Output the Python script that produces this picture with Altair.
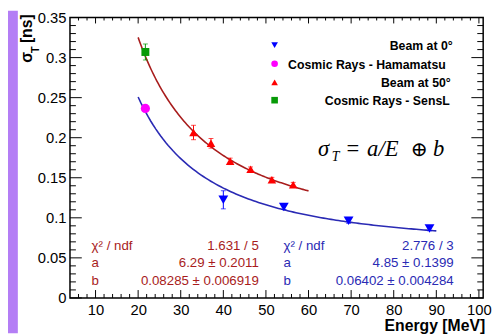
import altair as alt
import pandas as pd
import numpy as np

# ---------------- data ----------------
series_names = ["Beam at 0°", "Cosmic Rays - Hamamatsu", "Beam at 50°", "Cosmic Rays - SensL"]

beam0_E = [40.0, 54.2, 69.4, 88.4]
beam0_sigma = [0.1225, 0.1134, 0.0962, 0.0868]
beam0_err = [0.0113, 0.003, 0.003, 0.003]

hama_E = [21.7]
hama_sigma = [0.2365]
hama_err = [0.004]

beam50_E = [33.0, 37.1, 41.6, 46.4, 51.4, 56.4]
beam50_sigma = [0.2065, 0.193, 0.1705, 0.1605, 0.1475, 0.1412]
beam50_err = [0.009, 0.006, 0.004, 0.003, 0.003, 0.003]

sensl_E = [21.7]
sensl_sigma = [0.307]
sensl_err = [0.010]

# fit parameters shown on the chart (sigma = a/E (+) b)
fit50_a, fit50_b, fit50_range = 6.29, 0.08285, [20, 60]
fit0_a, fit0_b, fit0_range = 4.85, 0.06402, [20, 90]

x_major = [10, 20, 30, 40, 50, 60, 70, 80, 90, 100]
x_minor = [v for v in range(6, 101, 2) if v % 10 != 0]
y_major = [0, 0.05, 0.1, 0.15, 0.2, 0.25, 0.3, 0.35]
y_minor = [round(i * 0.01, 2) for i in range(1, 35) if i % 5 != 0]

stats50 = [("χ² / ndf", "1.631 / 5"), ("a", "6.29 ± 0.2011"), ("b", "0.08285 ± 0.006919")]
stats0 = [("χ² / ndf", "2.776 / 3"), ("a", "4.85 ± 0.1399"), ("b", "0.06402 ± 0.004284")]

# ---------------- styling ----------------
W, H = 420, 285
RED_FIT = "#a81c1c"
BLUE_FIT = "#2a2ab4"
PURPLE = "#b47ef5"
colors = ["#0000ff", "#ff00ff", "#ff0000", "#079a07"]
shapes = ["triangle-down", "circle", "triangle-up", "square"]
sizes = [100, 65, 100, 70]
SANS = "Liberation Sans"
SERIF = "Liberation Serif"

xs = alt.Scale(domain=[4, 101], nice=False, zero=False)
ys = alt.Scale(domain=[0, 0.35], nice=False, zero=False)
xaxis = alt.Axis(values=x_major, title=None, domain=False, ticks=False, grid=False,
                 labelFontSize=15, labelFont=SANS, labelColor="black", labelPadding=5,
                 format="d", labelFlush=False)
yaxis = alt.Axis(values=y_major, title=None, domain=False, ticks=False, grid=False,
                 labelFontSize=15, labelFont=SANS, labelColor="black", labelPadding=4,
                 format=".2~f", labelFlush=False)

# ---------------- tables ----------------
rows = []
for name, E, s, e in [(series_names[0], beam0_E, beam0_sigma, beam0_err),
                      (series_names[1], hama_E, hama_sigma, hama_err),
                      (series_names[2], beam50_E, beam50_sigma, beam50_err),
                      (series_names[3], sensl_E, sensl_sigma, sensl_err)]:
    for Ei, si, ei in zip(E, s, e):
        rows.append({"E": Ei, "sigma": si, "lo": si - ei, "hi": si + ei, "series": name})
pts = pd.DataFrame(rows)

def fit_df(a, b, rng):
    E = np.linspace(rng[0], rng[1], 120)
    return pd.DataFrame({"E": E, "sigma": np.sqrt((a / E) ** 2 + b ** 2)})

one = pd.DataFrame({"k": [0]})

color_enc = alt.Color("series:N", scale=alt.Scale(domain=series_names, range=colors), legend=None)

# ---------------- layers ----------------
layers = []

# purple strip at left
layers.append(alt.Chart(one).mark_rect(color=PURPLE).encode(
    x=alt.value(-63), x2=alt.value(-53), y=alt.value(-7), y2=alt.value(321)))

# fit curves
layers.append(alt.Chart(fit_df(fit50_a, fit50_b, fit50_range)).mark_line(color=RED_FIT, strokeWidth=1.6).encode(
    x=alt.X("E:Q", scale=xs, axis=xaxis), y=alt.Y("sigma:Q", scale=ys, axis=yaxis)))
layers.append(alt.Chart(fit_df(fit0_a, fit0_b, fit0_range)).mark_line(color=BLUE_FIT, strokeWidth=1.6).encode(
    x=alt.X("E:Q", scale=xs, axis=xaxis), y=alt.Y("sigma:Q", scale=ys, axis=yaxis)))

# error bars
layers.append(alt.Chart(pts).mark_rule(strokeWidth=1).encode(
    x=alt.X("E:Q", scale=xs, axis=xaxis), y=alt.Y("lo:Q", scale=ys, axis=yaxis), y2="hi:Q", color=color_enc))
for fld in ["lo", "hi"]:
    layers.append(alt.Chart(pts).mark_tick(orient="horizontal", size=5, thickness=1).encode(
        x=alt.X("E:Q", scale=xs, axis=xaxis), y=alt.Y(f"{fld}:Q", scale=ys, axis=yaxis), color=color_enc))

# markers
layers.append(alt.Chart(pts).mark_point(filled=True, opacity=1).encode(
    x=alt.X("E:Q", scale=xs, axis=xaxis), y=alt.Y("sigma:Q", scale=ys, axis=yaxis),
    color=color_enc,
    shape=alt.Shape("series:N", scale=alt.Scale(domain=series_names, range=shapes), legend=None),
    size=alt.Size("series:N", scale=alt.Scale(domain=series_names, range=sizes), legend=None)))

# frame
layers.append(alt.Chart(one).mark_rect(fillOpacity=0, stroke="black", strokeWidth=1.5).encode(
    x=alt.value(0), x2=alt.value(W), y=alt.value(0), y2=alt.value(H)))

# inward ticks
def xticks(vals, y0, y1):
    return alt.Chart(pd.DataFrame({"v": vals})).mark_rule(color="black", strokeWidth=1).encode(
        x=alt.X("v:Q", scale=xs, axis=xaxis), y=alt.value(y0), y2=alt.value(y1))

def yticks(vals, x0, x1):
    return alt.Chart(pd.DataFrame({"v": vals})).mark_rule(color="black", strokeWidth=1).encode(
        y=alt.Y("v:Q", scale=ys, axis=yaxis), x=alt.value(x0), x2=alt.value(x1))

layers += [xticks(x_major, H, H - 8), xticks(x_minor, H, H - 4),
           xticks(x_major, 0, 6), xticks(x_minor, 0, 3),
           yticks(y_major, 0, 12), yticks(y_minor, 0, 6),
           yticks(y_major, W, W - 12), yticks(y_minor, W, W - 6)]

# text helper
def txt(s, x, y, size=13.5, color="black", weight="normal", align="left", font=SANS,
        angle=0, style="normal"):
    return alt.Chart(one).mark_text(text=s, fontSize=size, color=color, fontWeight=weight,
                                    align=align, baseline="alphabetic", font=font,
                                    angle=angle, fontStyle=style).encode(
        x=alt.value(x), y=alt.value(y))

# legend
leg_y = [28, 47, 66, 84]
leg_right = [389, 382, 387, 386]
for i, name in enumerate(series_names):
    layers.append(alt.Chart(one).mark_point(filled=True, opacity=1, shape=shapes[i], color=colors[i],
                                            size=45).encode(x=alt.value(208), y=alt.value(leg_y[i])))
    layers.append(txt(name, leg_right[i], leg_y[i] + 5, size=12.5, weight="bold", align="right"))

# formula sigma_T = a/E (+) b
layers += [txt("σ", 252, 141, size=23, font=SERIF, style="italic"),
           txt("T", 266, 146, size=14, font=SERIF, style="italic"),
           txt("=", 281, 141, size=23, font=SERIF),
           txt("a/E", 302, 141, size=23, font=SERIF, style="italic"),
           txt("⊕", 346, 141, size=21, font="DejaVu Serif"),
           txt("b", 369, 141, size=23, font=SERIF, style="italic")]

# fit statistics
for j, (lab, val) in enumerate(stats50):
    layers.append(txt(lab, 22, 236 + 18 * j, color=RED_FIT))
    layers.append(txt(val, 192, 236 + 18 * j, color=RED_FIT, align="right"))
for j, (lab, val) in enumerate(stats0):
    layers.append(txt(lab, 217, 236 + 18 * j, color=BLUE_FIT))
    layers.append(txt(val, 390, 236 + 18 * j, color=BLUE_FIT, align="right"))

# axis titles
layers += [txt("σ", -39, 46, size=16, weight="bold", angle=270),
           txt("T", -31, 36, size=11, weight="bold", angle=270),
           txt("[ns]", -39, 26, size=16, weight="bold", angle=270),
           txt("Energy [MeV]", 422, 319, size=16, weight="bold", align="right")]

chart = alt.layer(*layers).properties(
    width=W, height=H, autosize="none",
    padding={"left": 63, "top": 7, "right": 11, "bottom": 36},
    background="white",
).configure_view(strokeWidth=0)

chart.save("out.html", embed_options={"renderer": "svg", "actions": False})
